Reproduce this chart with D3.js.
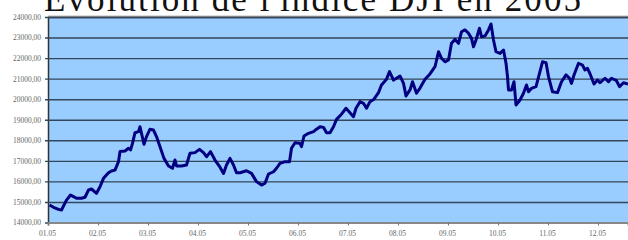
<!DOCTYPE html>
<html>
<head>
<meta charset="utf-8">
<script src="https://cdn.jsdelivr.net/npm/d3@7"></script>
<style>
  body { margin: 0; background: #fff; }
  .tick text { font-family: "Liberation Serif", "DejaVu Serif", serif; fill: #666; }
</style>
</head>
<body>
<svg id="chart"></svg>
<script>
// month position (0 = 01.05 tick) and index value
const months = [0.03, 0.11, 0.21, 0.27, 0.32, 0.37, 0.45, 0.51, 0.57, 0.67, 0.74, 0.81, 0.87, 0.97,
  1.04, 1.11, 1.21, 1.27, 1.34, 1.41, 1.44, 1.54, 1.61, 1.65, 1.69, 1.74, 1.81, 1.84, 1.87, 1.92, 1.97,
  2.04, 2.11, 2.17, 2.24, 2.32, 2.41, 2.49, 2.54, 2.57, 2.67, 2.77, 2.84, 2.94,
  3.03, 3.11, 3.17, 3.25, 3.34, 3.44, 3.51, 3.57, 3.64, 3.71, 3.77, 3.84, 3.97,
  4.07, 4.17, 4.27, 4.34, 4.41, 4.51, 4.57, 4.64, 4.74, 4.83, 4.87, 4.94,
  5.04, 5.07, 5.12, 5.21, 5.31, 5.37, 5.44, 5.51, 5.57, 5.64, 5.71, 5.77, 5.87, 5.96,
  6.04, 6.11, 6.16, 6.24, 6.31, 6.37, 6.44, 6.52, 6.61, 6.67, 6.77, 6.83, 6.91, 6.97,
  7.04, 7.11, 7.16, 7.24, 7.29, 7.37, 7.44, 7.54, 7.64, 7.74, 7.81, 7.87, 7.94,
  8.01, 8.07, 8.14, 8.21, 8.27, 8.34, 8.41, 8.47, 8.51, 8.56, 8.63, 8.67, 8.74, 8.81, 8.86, 8.91, 8.96,
  9.04, 9.11, 9.16, 9.19, 9.21, 9.27, 9.32, 9.36, 9.44, 9.51, 9.57, 9.61, 9.67, 9.76, 9.83, 9.89, 9.96,
  10.01, 10.09, 10.19, 10.27, 10.36, 10.43, 10.47, 10.52, 10.61, 10.69, 10.74, 10.79, 10.85, 10.92, 10.99,
  11.04, 11.14, 11.21, 11.27, 11.37, 11.43, 11.51, 11.6];

const values = [14850, 14740, 14640, 14610, 14850, 15090, 15340, 15260, 15180, 15180, 15230, 15580, 15630, 15420,
  15740, 16150, 16420, 16510, 16550, 16960, 17450, 17480, 17610, 17530, 17850, 18370, 18420, 18660, 18340, 17810, 18180,
  18540, 18500, 18180, 17690, 17120, 16750, 16640, 17040, 16750, 16750, 16800, 17370, 17400,
  17560, 17400, 17200, 17450, 17040, 16690, 16390, 16800, 17120, 16800, 16420, 16420, 16520,
  16390, 15990, 15820, 15910, 16360, 16470, 16640, 16880, 16960, 16960, 17610, 17880,
  17850, 17690, 18210, 18340, 18420, 18540, 18660, 18630, 18370, 18370, 18660, 19020, 19270, 19560,
  19340, 19150, 19560, 19880, 19800, 19560, 19880, 20000, 20320, 20690, 20970, 21340, 20930, 21020,
  21130, 20770, 20160, 20450, 20850, 20290, 20540, 20970, 21230, 21580, 22310, 21990, 21820,
  21910, 22720, 22910, 22720, 23280, 23370, 23210, 22960, 22550, 22880, 23450, 23040, 23080, 23370, 23660, 22880, 22310,
  22230, 22390, 21750, 21100, 20450, 20450, 20850, 19720, 19960, 20290, 20690, 20360, 20530, 20610, 21260, 21820, 21780,
  21100, 20360, 20320, 20850, 21180, 21020, 20770, 21180, 21750, 21660, 21420, 21500, 21180, 20740, 20930,
  20800, 21020, 20850, 21020, 20900, 20610, 20800, 20740];

const monthLabels = ["01.05", "02.05", "03.05", "04.05", "05.05", "06.05",
  "07.05", "08.05", "09.05", "10.05", "11.05", "12.05"];
const yTickValues = [14000, 15000, 16000, 17000, 18000, 19000, 20000, 21000, 22000, 23000, 24000];
const title = "Evolution de l'indice DJI en 2005";

const W = 628, H = 240;
const margin = {top: 17, right: 0, bottom: 17.5, left: 48};
const width = W - margin.left - margin.right;
const height = H - margin.top - margin.bottom;

const data = months.map((m, i) => ({m: m, v: values[i]}));

const svg = d3.select('#chart')
    .attr('width', W)
    .attr('height', H);

// the title is cut at the top edge, as in the original image
svg.append('text')
    .attr('x', 44)
    .attr('y', 11)
    .attr('textLength', 537)
    .attr('lengthAdjust', 'spacing')
    .style('font-family', '"Liberation Serif", "DejaVu Serif", serif')
    .style('font-size', '35px')
    .attr('fill', '#111')
    .text(title);

const chart = svg.append('g')
    .attr('transform', `translate(${margin.left}, ${margin.top})`);

const x = d3.scaleLinear()
  .domain([0, 11.6])
  .range([0, width]);

const y = d3.scaleLinear()
  .domain([14000, 24000])
  .range([height, 0]);

chart.append('rect')
    .attr('width', width)
    .attr('height', height)
    .attr('fill', '#99ccff');

// top edge shadow
chart.append('line')
    .attr('x1', 0).attr('x2', width)
    .attr('y1', -0.5).attr('y2', -0.5)
    .attr('stroke', '#bbb')
    .attr('stroke-width', 2);

const yAxis = d3.axisLeft(y)
  .tickValues(yTickValues)
  .tickSize(-width)
  .tickPadding(7)
  .tickFormat(d => d + ',00');

const gy = chart.append('g')
    .attr('class', 'y-axis')
    .call(yAxis);
gy.select('.domain').attr('stroke', '#333').attr('stroke-width', 1.5);
gy.selectAll('.tick line')
    .attr('stroke', '#34465a')
    .attr('stroke-width', 1.4)
    .attr('x1', -3);
gy.selectAll('.tick text').style('font-size', '7.5px');

const xAxis = d3.axisBottom(x)
  .tickValues(d3.range(monthLabels.length))
  .tickSize(3)
  .tickPadding(5)
  .tickFormat(i => monthLabels[i]);

const gx = chart.append('g')
    .attr('class', 'x-axis')
    .attr('transform', `translate(0, ${height})`)
    .call(xAxis);
gx.select('.domain').attr('stroke', '#888').attr('stroke-width', 2);
gx.selectAll('.tick line').attr('stroke', '#777');
gx.selectAll('.tick text').style('font-size', '7.5px').attr('dx', -1);

chart.append('clipPath').attr('id', 'clip')
  .append('rect').attr('width', width).attr('height', height);

const line = d3.line()
  .x(d => x(d.m))
  .y(d => y(d.v));

chart.append('path')
    .datum(data)
    .attr('clip-path', 'url(#clip)')
    .attr('fill', 'none')
    .attr('stroke', '#000080')
    .attr('stroke-width', 3)
    .attr('stroke-linejoin', 'round')
    .attr('d', line);
</script>
</body>
</html>
